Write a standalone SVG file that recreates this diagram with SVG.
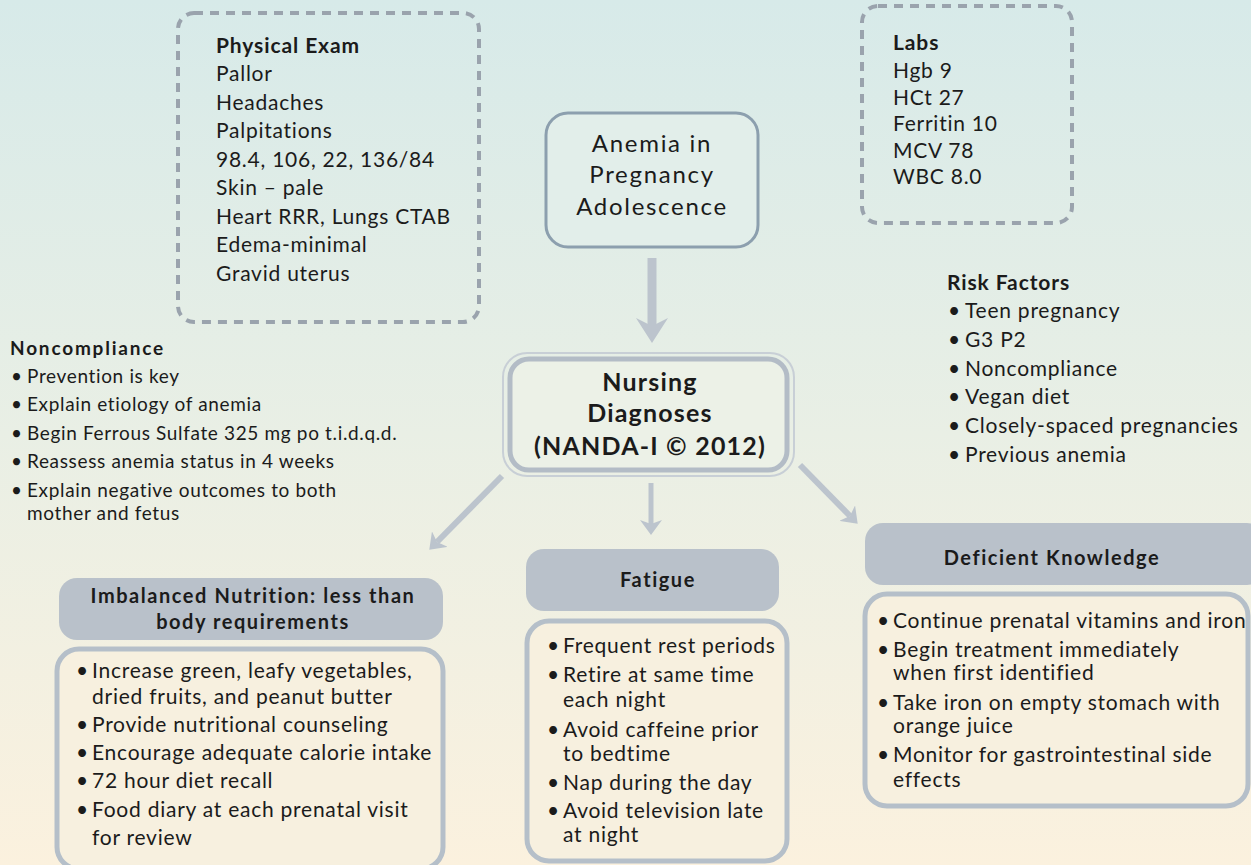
<svg xmlns="http://www.w3.org/2000/svg" width="1251" height="865" viewBox="0 0 1251 865">
  <defs>
    <linearGradient id="bg" x1="0" y1="0" x2="0" y2="1">
      <stop offset="0" stop-color="#d7eae9"/>
      <stop offset="0.5" stop-color="#e9efe5"/>
      <stop offset="1" stop-color="#fbf1de"/>
    </linearGradient>
    <marker id="head" markerUnits="userSpaceOnUse" viewBox="0 0 15 22" markerWidth="15" markerHeight="22" refX="4" refY="11" orient="auto">
      <path d="M0,0 L15,11 L0,22 L4,11 Z" fill="#bcc4cd"/>
    </marker>
    <marker id="bighead" markerUnits="userSpaceOnUse" viewBox="0 0 25 32" markerWidth="25" markerHeight="32" refX="8" refY="16" orient="auto">
      <path d="M0,0 L25,16 L0,32 L8,16 Z" fill="#bcc4cd"/>
    </marker>
    <style>
      text { font-family: Lato, "Liberation Sans", sans-serif; fill: #1b1b1b; }
      .dash { fill: none; stroke: #9aa3ad; stroke-width: 4; stroke-dasharray: 9 7; }
      .hd { font-weight: 700; letter-spacing: 0.9px; }
      .t20 { font-size: 21px; letter-spacing: 0.75px; }
      .t17 { font-size: 19px; letter-spacing: 0.65px; }
      .t17 .hd { letter-spacing: 1.8px; }
      .hdr { fill: #b9c1ca; }
      .body { fill: #f7f0df; stroke: #b5bfc9; stroke-width: 5; }
      .htxt { font-size: 20px; font-weight: 700; letter-spacing: 1.55px; text-anchor: middle; }
      .arrow { stroke: #bcc4cd; fill: none; }
    </style>
  </defs>

  <rect width="1251" height="865" fill="url(#bg)"/>

  <!-- physical exam findings -->
  <g id="physical-exam">
    <rect class="dash" x="178" y="13" width="301" height="309" rx="16"/>
    <text class="t20"><tspan class="hd" x="216" y="53">Physical Exam</tspan><tspan x="216" y="81">Pallor</tspan><tspan x="216" y="110">Headaches</tspan><tspan x="216" y="138">Palpitations</tspan><tspan x="216" y="167">98.4, 106, 22, 136/84</tspan><tspan x="216" y="195">Skin – pale</tspan><tspan x="216" y="224">Heart RRR, Lungs CTAB</tspan><tspan x="216" y="252">Edema-minimal</tspan><tspan x="216" y="281">Gravid uterus</tspan></text>
  </g>

  <!-- laboratory values -->
  <g id="labs">
    <rect class="dash" x="862" y="6" width="210" height="217" rx="16"/>
    <text class="t20"><tspan class="hd" x="893" y="50">Labs</tspan><tspan x="893" y="78">Hgb 9</tspan><tspan x="893" y="105">HCt 27</tspan><tspan x="893" y="131">Ferritin 10</tspan><tspan x="893" y="158">MCV 78</tspan><tspan x="893" y="184">WBC 8.0</tspan></text>
  </g>

  <!-- risk factors -->
  <g id="risk-factors">
    <text class="t20"><tspan class="hd" x="947" y="290">Risk Factors</tspan>
      <tspan x="948" y="318">•</tspan><tspan x="965">Teen pregnancy</tspan>
      <tspan x="948" y="347">•</tspan><tspan x="965">G3 P2</tspan>
      <tspan x="948" y="376">•</tspan><tspan x="965">Noncompliance</tspan>
      <tspan x="948" y="404">•</tspan><tspan x="965">Vegan diet</tspan>
      <tspan x="948" y="433">•</tspan><tspan x="965">Closely-spaced pregnancies</tspan>
      <tspan x="948" y="462">•</tspan><tspan x="965">Previous anemia</tspan></text>
  </g>

  <!-- central condition -->
  <g id="anemia">
    <rect x="546" y="113" width="212" height="134" rx="22" fill="#e2eeea" stroke="#8c9fae" stroke-width="3"/>
    <text font-size="24" letter-spacing="1.7" text-anchor="middle"><tspan x="652" y="152">Anemia in</tspan><tspan x="652" y="183">Pregnancy</tspan><tspan x="652" y="215">Adolescence</tspan></text>
  </g>

  <!-- nursing diagnoses hub -->
  <g id="nursing-diagnoses">
    <rect x="503" y="353" width="291" height="123" rx="24" fill="none" stroke="#c8cfd6" stroke-width="2"/>
    <rect x="510" y="359" width="277" height="111" rx="19" fill="#ecf1e7" stroke="#b3bcc6" stroke-width="5"/>
    <text font-size="25" font-weight="700" letter-spacing="1.2" text-anchor="middle"><tspan x="650" y="391">Nursing</tspan><tspan x="650" y="422">Diagnoses</tspan><tspan x="650" y="455">(NANDA-I © 2012)</tspan></text>
  </g>

  <!-- noncompliance interventions -->
  <g id="noncompliance">
    <text class="t17"><tspan class="hd" x="10" y="355">Noncompliance</tspan>
      <tspan x="11" y="383">•</tspan><tspan x="27">Prevention is key</tspan>
      <tspan x="11" y="411">•</tspan><tspan x="27">Explain etiology of anemia</tspan>
      <tspan x="11" y="440">•</tspan><tspan x="27">Begin Ferrous Sulfate 325 mg po t.i.d.q.d.</tspan>
      <tspan x="11" y="468">•</tspan><tspan x="27">Reassess anemia status in 4 weeks</tspan>
      <tspan x="11" y="497">•</tspan><tspan x="27">Explain negative outcomes to both</tspan>
      <tspan x="27" y="520">mother and fetus</tspan></text>
  </g>

  <!-- imbalanced nutrition -->
  <g id="nutrition">
    <rect class="hdr" x="59" y="578" width="384" height="62" rx="18"/>
    <text class="htxt"><tspan x="253" y="603">Imbalanced Nutrition: less than</tspan><tspan x="253" y="629">body requirements</tspan></text>
    <rect class="body" x="57" y="649" width="386" height="220" rx="22"/>
    <text class="t20">
      <tspan x="76" y="678">•</tspan><tspan x="92">Increase green, leafy vegetables,</tspan>
      <tspan x="92" y="704">dried fruits, and peanut butter</tspan>
      <tspan x="76" y="732">•</tspan><tspan x="92">Provide nutritional counseling</tspan>
      <tspan x="76" y="760">•</tspan><tspan x="92">Encourage adequate calorie intake</tspan>
      <tspan x="76" y="788">•</tspan><tspan x="92">72 hour diet recall</tspan>
      <tspan x="76" y="817">•</tspan><tspan x="92">Food diary at each prenatal visit</tspan>
      <tspan x="92" y="845">for review</tspan></text>
  </g>

  <!-- fatigue -->
  <g id="fatigue">
    <rect class="hdr" x="526" y="549" width="253" height="62" rx="18"/>
    <text class="htxt" x="658" y="587">Fatigue</text>
    <rect class="body" x="527" y="621" width="260" height="240" rx="22"/>
    <text class="t20">
      <tspan x="547" y="653">•</tspan><tspan x="563">Frequent rest periods</tspan>
      <tspan x="547" y="682">•</tspan><tspan x="563">Retire at same time</tspan>
      <tspan x="563" y="707">each night</tspan>
      <tspan x="547" y="737">•</tspan><tspan x="563">Avoid caffeine prior</tspan>
      <tspan x="563" y="761">to bedtime</tspan>
      <tspan x="547" y="790">•</tspan><tspan x="563">Nap during the day</tspan>
      <tspan x="547" y="818">•</tspan><tspan x="563">Avoid television late</tspan>
      <tspan x="563" y="842">at night</tspan></text>
  </g>

  <!-- deficient knowledge -->
  <g id="knowledge">
    <rect class="hdr" x="865" y="523" width="400" height="62" rx="18"/>
    <text class="htxt" x="1052" y="565">Deficient Knowledge</text>
    <rect class="body" x="865" y="594" width="383" height="212" rx="22"/>
    <text class="t20">
      <tspan x="877" y="628">•</tspan><tspan x="893">Continue prenatal vitamins and iron</tspan>
      <tspan x="877" y="657">•</tspan><tspan x="893">Begin treatment immediately</tspan>
      <tspan x="893" y="680">when first identified</tspan>
      <tspan x="877" y="710">•</tspan><tspan x="893">Take iron on empty stomach with</tspan>
      <tspan x="893" y="733">orange juice</tspan>
      <tspan x="877" y="762">•</tspan><tspan x="893">Monitor for gastrointestinal side</tspan>
      <tspan x="893" y="787">effects</tspan></text>
  </g>

  <!-- connectors -->
  <g id="connectors" class="arrow">
    <line x1="652" y1="258" x2="652" y2="326" stroke-width="9" marker-end="url(#bighead)"/>
    <line x1="502" y1="476" x2="437" y2="542" stroke-width="6" marker-end="url(#head)"/>
    <line x1="651" y1="483" x2="651" y2="524" stroke-width="5" marker-end="url(#head)"/>
    <line x1="800" y1="465" x2="850" y2="516" stroke-width="6" marker-end="url(#head)"/>
  </g>
</svg>
